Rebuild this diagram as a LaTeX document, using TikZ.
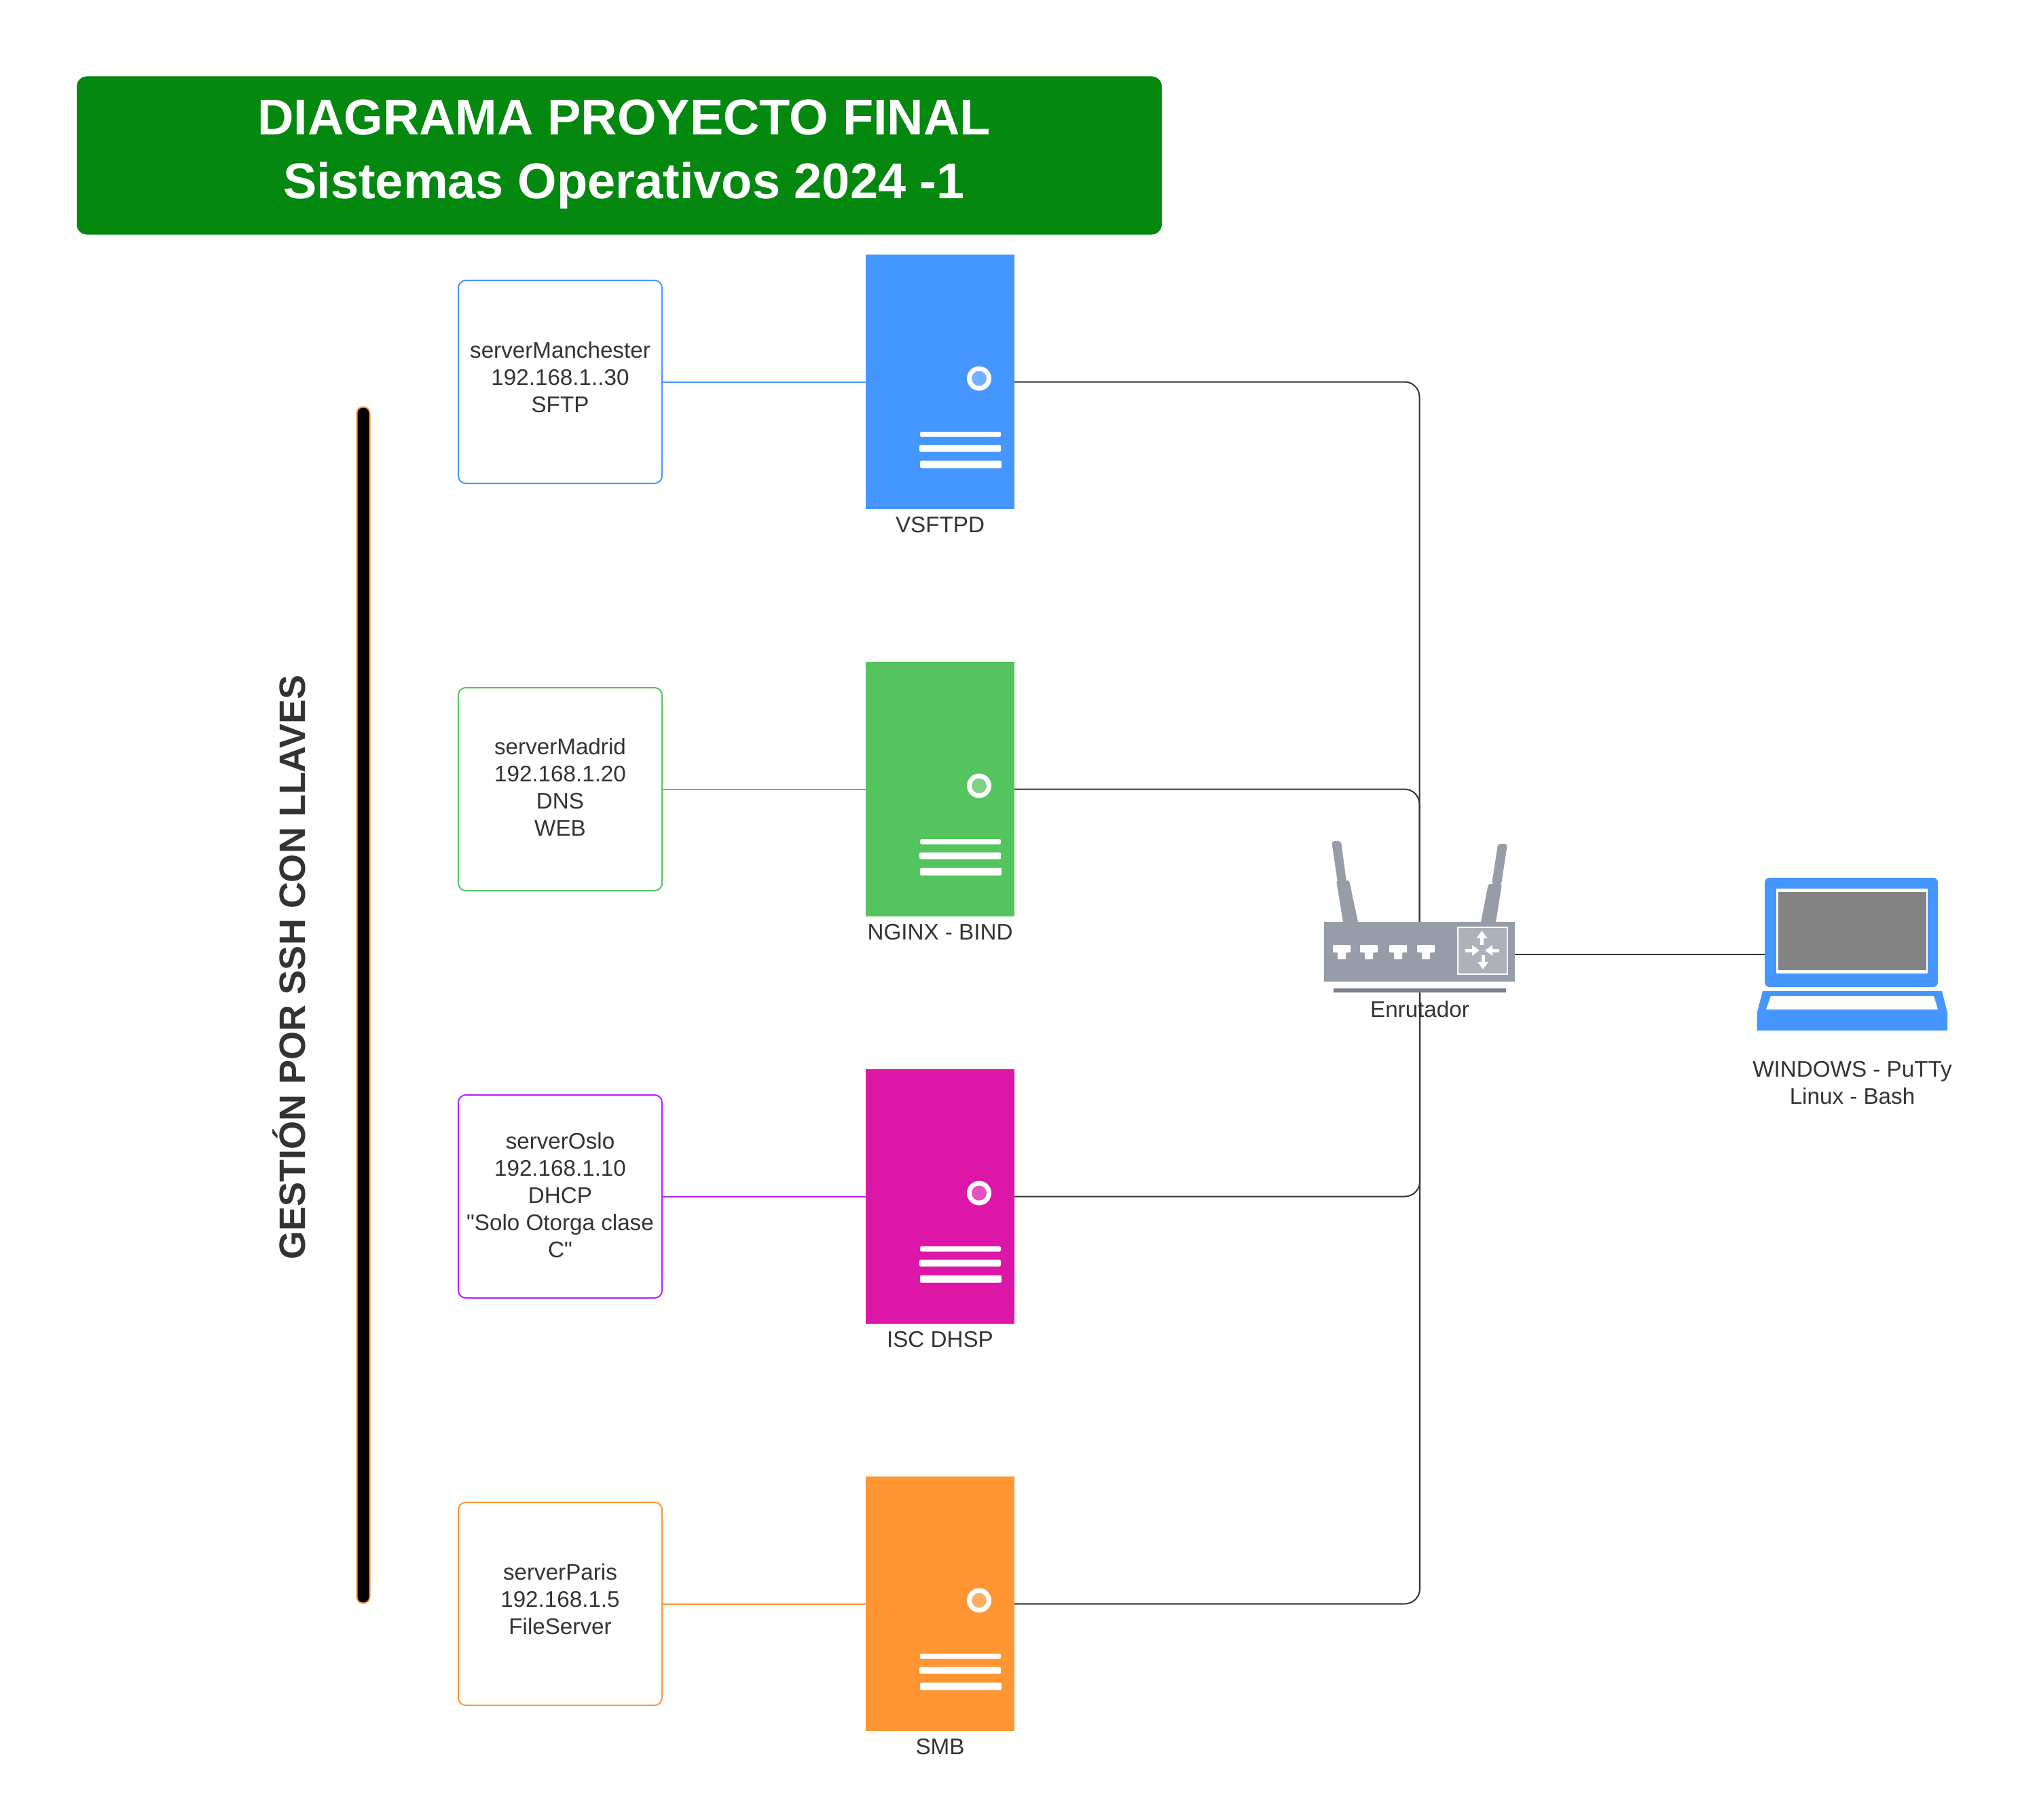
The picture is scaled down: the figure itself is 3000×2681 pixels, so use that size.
\documentclass[tikz,border=0pt]{standalone}
\usepackage{fontspec}
\setmainfont{Liberation Sans}[Ligatures=TeXOff]
\usetikzlibrary{backgrounds,arrows.meta}
\definecolor{cblue}{HTML}{4596FF}
\definecolor{cgreen}{HTML}{54C45F}
\definecolor{cmag}{HTML}{DC17A8}
\definecolor{cpurple}{HTML}{B620FF}
\definecolor{corange}{HTML}{FF9633}
\definecolor{ctext}{HTML}{333333}
\definecolor{ctitle}{HTML}{04880F}
\definecolor{rbody}{HTML}{979DA8}
\definecolor{rbar}{HTML}{7A7F8A}
\definecolor{rpanel}{HTML}{ADB2BA}
\definecolor{cscreen}{HTML}{838383}
\tikzset{
  every node/.style={outer sep=0pt,inner sep=0pt,text=ctext},
  txt/.style={font=\fontsize{33.2}{40}\selectfont,align=center},
  hostbox/.style={draw=#1,line width=2pt,fill=white,rounded corners=11pt,minimum width=300pt,minimum height=299pt},
  srvbody/.style={fill=#1,minimum width=219pt,minimum height=375pt},
  link/.style={draw=#1,line width=2pt},
  trunk/.style={draw=ctext,line width=2pt,rounded corners=22pt},
  slot/.style={fill=white,rounded corners=1.5pt},
  flow/.style={draw=white,line width=5pt,-{Triangle[length=11pt,width=15pt]}},
  port/.style={fill=white,rounded corners=1pt},
}
\newcommand\srvnode[5]{% name, cy, colour, label, label-name
  \node[srvbody=#3] (#1) at (1384.5,#2) {};
  \fill[white] (1442,#2-5) circle (18pt);
  \fill[#3!75!white] (1442,#2-5) circle (11pt);
  \path[slot] (1355,#2+73.5) rectangle (1474,#2+81);
  \path[slot] (1354,#2+93) rectangle (1474,#2+103);
  \path[slot] (1355,#2+116) rectangle (1475,#2+127);
  \node[txt,anchor=base] (#5) at (1384.5,#2+222) {#4};
}
\newcommand\hostnode[5]{% name, cy, colour, text, text shift
  \node[hostbox=#3,label={[txt,yshift=#5]center:{#4}}] (#1) at (825,#2) {};
  \draw[link=#3] (#1.east) -- (#1s.west);
}
\newcommand\routerport[1]{%
  \path[port] (#1,1392) -- (#1+26,1392) -- (#1+26,1403) -- (#1+19,1403) -- (#1+19,1413) -- (#1+7,1413) -- (#1+7,1403) -- (#1,1403) -- cycle;
}
\begin{document}
\begin{tikzpicture}[x=1pt,y=-1pt]
\useasboundingbox (0,0) rectangle (3000,2681);
% title
\node[fill=ctitle,rounded corners=15pt,minimum width=1598pt,minimum height=233pt,
  label={[text=white,font=\fontsize{74}{94}\selectfont\bfseries,align=center,xshift=7pt,yshift=1.5pt]center:{DIAGRAMA PROYECTO FINAL\\Sistemas Operativos 2024 -1}}]
  (title) at (912,229) {};
% vertical label and bar
\node[rotate=90,font=\fontsize{54}{64}\selectfont\bfseries] (ssh) at (426,1425) {GESTIÓN POR SSH CON LLAVES};
\node[fill=black,draw=corange,line width=2pt,rounded corners=9pt,minimum width=19pt,minimum height=1762pt] (bar) at (535,1480.5) {};
% servers
\srvnode{m1s}{562.5}{cblue}{VSFTPD}{m1l}
\srvnode{m2s}{1162.5}{cgreen}{NGINX - BIND}{m2l}
\srvnode{m3s}{1762.5}{cmag}{ISC DHSP}{m3l}
\srvnode{m4s}{2362.5}{corange}{SMB}{m4l}
% host boxes
\hostnode{m1}{562.5}{cblue}{serverManchester\\192.168.1..30\\SFTP}{7pt}
\hostnode{m2}{1162.5}{cgreen}{serverMadrid\\192.168.1.20\\DNS\\WEB}{3pt}
\hostnode{m3}{1762.5}{cpurple}{serverOslo\\192.168.1.10\\DHCP\\"Solo Otorga clase\\C"}{2pt}
\hostnode{m4}{2362.5}{corange}{serverParis\\192.168.1.5\\FileServer}{7pt}
% router
\node[fill=rbody,minimum width=281pt,minimum height=88pt] (router) at (2090.5,1402) {};
\node[fill=rbar,minimum width=254pt,minimum height=6.5pt] (rbase) at (2091,1459) {};
\begin{scope}[rbody]
 \fill[rounded corners=4pt] (1961,1239) -- (1975,1239) -- (1983,1300) -- (1970,1300) -- cycle;
 \fill[rounded corners=3pt] (1968,1297) -- (1987,1297) -- (2000,1358) -- (2000,1362) -- (1978,1362) -- (1978,1358) -- cycle;
 \fill[rounded corners=4pt] (2206,1243) -- (2220,1243) -- (2211,1303) -- (2197,1303) -- cycle;
 \fill[rounded corners=3pt] (2192,1302) -- (2212,1302) -- (2203,1358) -- (2203,1362) -- (2181,1362) -- (2181,1358) -- cycle;
\end{scope}
\routerport{1963}\routerport{2003}\routerport{2046}\routerport{2087}
\node[draw=white,fill=rpanel,line width=2.5pt,minimum width=73pt,minimum height=69pt] (rpanel) at (2183.5,1400.5) {};
\draw[flow] (2182.5,1392) -- (2182.5,1371);
\draw[flow] (2184,1407) -- (2184,1428);
\draw[flow] (2158,1400) -- (2179,1400);
\draw[flow] (2208,1400) -- (2187,1400);
\node[txt,anchor=base] (rlabel) at (2091,1498) {Enrutador};
% laptop
\node[fill=cblue,rounded corners=7pt,minimum width=255pt,minimum height=161pt] (laptop) at (2726.5,1373.5) {};
\fill[white] (2616,1309) rectangle (2839,1434);
\fill[cscreen] (2619,1314) rectangle (2837,1429);
\fill[cblue] (2596,1460) -- (2860,1460) -- (2868,1492) -- (2868,1518) -- (2587.5,1518) -- (2587.5,1492) -- cycle;
\fill[white] (2608,1467) -- (2848,1467) -- (2854,1487) -- (2601,1487) -- cycle;
\node[txt] (llabel) at (2728,1595) {WINDOWS - PuTTy\\Linux - Bash};
% connectors
\begin{scope}[on background layer]
 \fill[white] (0,0) rectangle (3000,2681);
 \draw[trunk] (m1s.east) -| (router.north);
 \draw[trunk] (m2s.east) -| (router.north);
 \draw[trunk] (m3s.east) -| (rbase.south);
 \draw[trunk] (m4s.east) -| (rbase.south);
 \draw[draw=ctext,line width=2pt] (router.east |- 0,1406) -- (laptop.west |- 0,1406);
\end{scope}
\end{tikzpicture}
\end{document}
